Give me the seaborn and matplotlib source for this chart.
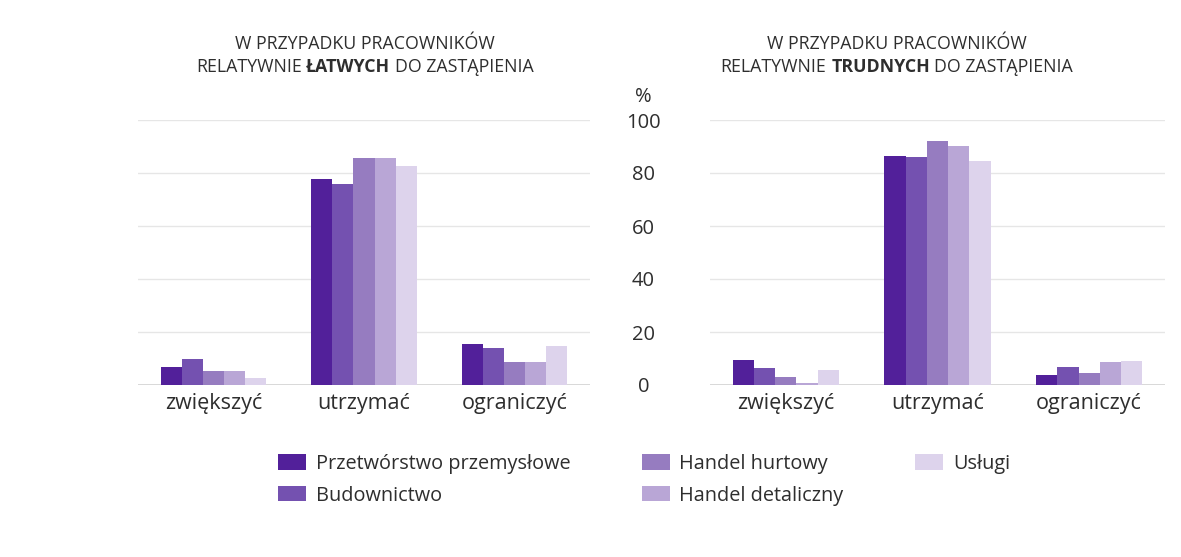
import seaborn as sns
import matplotlib.pyplot as plt
import pandas as pd

categories = ["zwiększyć", "utrzymać", "ograniczyć"]
sectors = ["Przetwórstwo przemysłowe", "Budownictwo", "Handel hurtowy",
           "Handel detaliczny", "Usługi"]
colors = ["#52209a", "#7451b0", "#967cc0", "#b9a6d6", "#ddd3ec"]

# values per sector, order: zwiększyć, utrzymać, ograniczyć
easy = {
    "Przetwórstwo przemysłowe": [6.9, 77.6, 15.3],
    "Budownictwo": [10.0, 75.7, 14.1],
    "Handel hurtowy": [5.4, 85.8, 8.6],
    "Handel detaliczny": [5.3, 85.7, 8.8],
    "Usługi": [2.6, 82.5, 14.7],
}
hard = {
    "Przetwórstwo przemysłowe": [9.6, 86.4, 3.6],
    "Budownictwo": [6.4, 86.1, 6.9],
    "Handel hurtowy": [2.9, 92.1, 4.4],
    "Handel detaliczny": [0.8, 90.1, 8.6],
    "Usługi": [5.8, 84.4, 9.2],
}

yticks = [0, 20, 40, 60, 80, 100]


def to_long(d):
    rows = []
    for s in sectors:
        for c, v in zip(categories, d[s]):
            rows.append({"kat": c, "sektor": s, "val": v})
    return pd.DataFrame(rows)


plt.rcParams["font.family"] = ["Open Sans", "DejaVu Sans"]
txt = "#2e2e2e"

fig = plt.figure(figsize=(11.81, 5.57), dpi=100)
W, H = 1181, 557
ax1 = fig.add_axes([138 / W, (557 - 385) / H, 452 / W, 265 / H])
ax2 = fig.add_axes([710 / W, (557 - 385) / H, 455 / W, 265 / H])

for ax, d in [(ax1, easy), (ax2, hard)]:
    sns.barplot(data=to_long(d), x="kat", y="val", hue="sektor",
                hue_order=sectors, order=categories, palette=colors,
                saturation=1, width=0.7, linewidth=0, ax=ax,
                legend=(ax is ax1))
    ax.set_ylim(0, 100)
    ax.set_xlim(-0.5, 2.5)
    ax.set_yticks(yticks)
    ax.grid(axis="y", color="#e6e6e6", linewidth=1)
    ax.set_axisbelow(True)
    for sp in ax.spines.values():
        sp.set_visible(False)
    ax.axhline(0, color="#cfcfcf", linewidth=1.2, zorder=0.5)
    ax.set_xlabel("")
    ax.set_ylabel("")
    ax.tick_params(axis="x", length=0, labelsize=15.5, labelcolor=txt, pad=6)
    ax.tick_params(axis="y", length=0, labelsize=14.5, labelcolor=txt)

ax1.tick_params(axis="y", labelleft=False)
ax2.tick_params(axis="y", pad=48)
for lab in ax2.get_yticklabels():
    lab.set_ha("center")
fig.text(643 / W, 1 - 97 / H, "%", ha="center", va="center", fontsize=14.5, color=txt)

handles, labels = ax1.get_legend_handles_labels()
ax1.get_legend().remove()
fig.legend(handles, labels, ncol=3, loc="upper left",
           bbox_to_anchor=(260 / W, 1 - 436 / H), frameon=False,
           fontsize=14.3, labelcolor=txt, handlelength=1.4, handleheight=0.8,
           handletextpad=0.5, columnspacing=3.6, labelspacing=0.6)

# titles with a bold word in the second line
fig.canvas.draw()
rend = fig.canvas.get_renderer()
fs = 12.8


def title(cx, word):
    fig.text(cx / W, 1 - 44 / H, "W PRZYPADKU PRACOWNIKÓW", ha="center",
             va="center", fontsize=fs, color=txt)
    probe = fig.text(0, 0, "A A", fontsize=fs)
    probe2 = fig.text(0, 0, "AA", fontsize=fs)
    space = probe.get_window_extent(rend).width - probe2.get_window_extent(rend).width
    probe.remove()
    probe2.remove()
    parts = [("RELATYWNIE", "normal"), (word, "bold"), ("DO ZASTĄPIENIA", "normal")]
    objs = [fig.text(0, 1 - 67 / H, p, fontsize=fs, fontweight=w, color=txt,
                     va="center", ha="left") for p, w in parts]
    widths = [o.get_window_extent(rend).width for o in objs]
    x = cx - (sum(widths) + 2 * space) / 2
    for o, w in zip(objs, widths):
        o.set_x(x / W)
        x += w + space


title(365, "ŁATWYCH")
title(897, "TRUDNYCH")

fig.savefig("out.png", dpi=100)
